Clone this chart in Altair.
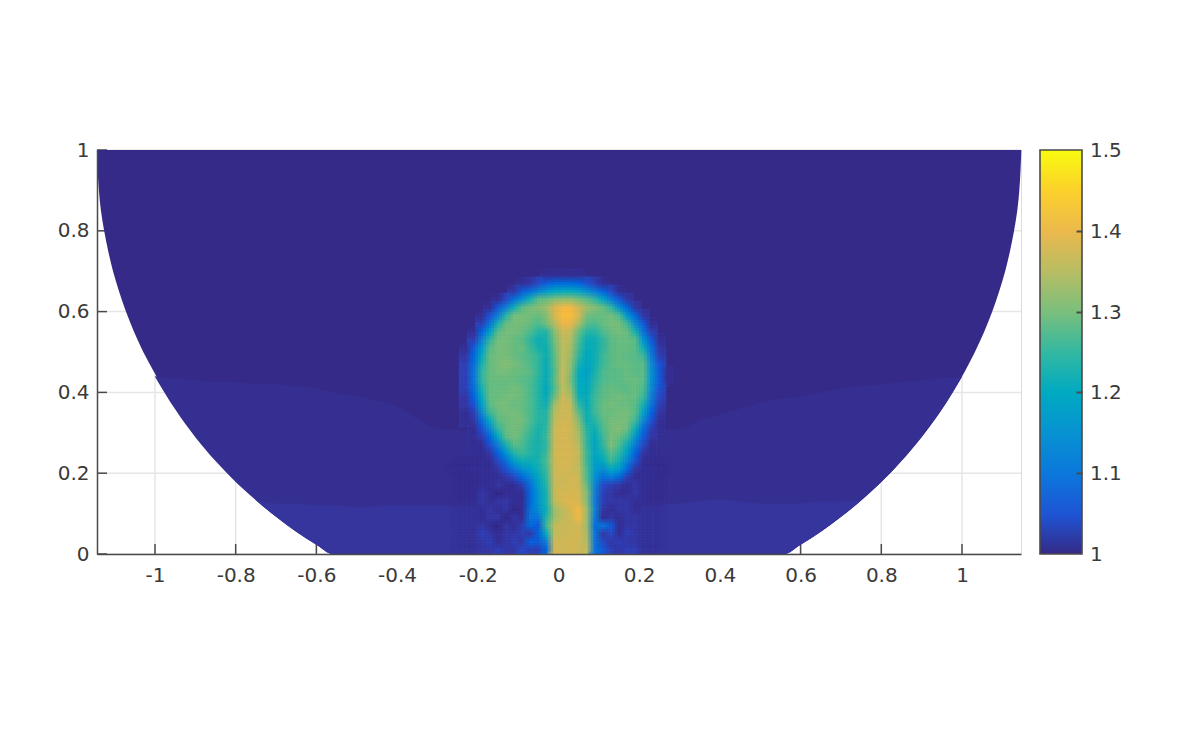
import altair as alt
import pandas as pd

# ---- axes ----
x_ticks = [-1, -0.8, -0.6, -0.4, -0.2, 0, 0.2, 0.4, 0.6, 0.8, 1]
y_ticks = [0, 0.2, 0.4, 0.6, 0.8, 1]
bar_ticks = [1, 1.1, 1.2, 1.3, 1.4, 1.5]
bar_pos = [0, 0.2, 0.4, 0.6, 0.8, 1]  # where those labels sit along the bar
bar_inner_ticks = [0.2, 0.4, 0.6, 0.8]

# ---- parula colours ----
parula = ["#352A87", "#353DAD", "#2053D4", "#0268E1", "#0D75DC", "#1481D6", "#108ED2", "#079CCF",
          "#06A7C6", "#0FAEB9", "#25B5A9", "#42BB98", "#65BE86", "#87BF77", "#A5BE6B", "#C0BC60",
          "#D9BA56", "#F1B94A", "#FFC337", "#FAD32A", "#F5E41D", "#F9FB0E"]
parula_stops = [1 + 0.5 * i / 21 for i in range(22)]

# ---- domain outline (half disc) ----
edge_y = [0, .05, .10, .15, .20, .25, .30, .35, .40, .45, .50, .55, .60, .65, .70, .75, .80, .85, .90, .95, 1.0]
edge_l = [-.556, -.640, -.709, -.767, -.819, -.864, -.904, -.940, -.973, -1.002, -1.029, -1.052, -1.072,
          -1.089, -1.104, -1.116, -1.126, -1.134, -1.139, -1.142, -1.144]
edge_r = [.561, .642, .711, .770, .822, .867, .908, .945, .977, 1.006, 1.032, 1.055, 1.075, 1.092, 1.107,
          1.119, 1.129, 1.137, 1.142, 1.145, 1.147]

# ---- faint bands ----
band_x = [-1.0, -.95, -.9, -.85, -.8, -.75, -.7, -.65, -.6, -.56, -.5, -.45, -.4, -.35, -.3, 0, .3, .35, .4, .45,
          .5, .56, .6, .65, .7, .75, .8, .85, .9, .95, 1.0]
band_low = [.439, .358, .289, .230, .178, .133, .092, .055, .023, 0, 0, 0, 0, 0, 0, 0, 0, 0, 0, 0,
            0, 0, .023, .055, .092, .133, .178, .230, .289, .358, .439]
band_mid = [.44, .435, .43, .425, .425, .42, .42, .415, .41, .40, .39, .38, .365, .335, .31, .30, .31, .33, .345, .36,
            .375, .385, .39, .40, .41, .415, .42, .425, .43, .435, .439]
low_x = [-.75, -.7, -.65, -.6, -.56, -.5, -.4, -.3, 0, .3, .4, .5, .56, .6, .65, .7, .75]
low_top = [.133, .125, .125, .12, .12, .115, .12, .12, .12, .125, .135, .125, .125, .125, .13, .13, .133]
low_bot = [.133, .092, .055, .023, 0, 0, 0, 0, 0, 0, 0, 0, 0, .023, .055, .092, .133]
mid_level = 1.007
low_level = 1.014

# ---- cells: (value - 1) * 100, read row by row; columns are x = -0.33 + 0.02 * c ----
row_y = [.69, .67, .65, .63, .61, .59, .57, .55, .53, .51, .49, .47, .45, .43, .41, .39, .37, .35, .33, .31, .29,
         .27, .25, .23, .21, .19, .17, .15, .13, .11, .09, .07, .05, .03, .01]
row_start = [15, 12, 11, 9, 8, 7, 7, 6, 6, 5, 5, 5, 5, 5, 5, 5, 5, 5, 5, 6, 6,
             6, 6, 4, 3, 4, 4, 4, 4, 4, 4, 4, 4, 4, 4]
row_values = [
    [1, 1, 1, 1, 1],
    [1, 2, 4, 6, 8, 8, 8, 7, 5, 3, 1],
    [2, 6, 9, 13, 17, 20, 21, 21, 19, 15, 11, 7, 4, 1],
    [1, 4, 9, 15, 23, 28, 29, 31, 32, 32, 30, 28, 25, 19, 11, 6, 2],
    [1, 6, 12, 22, 28, 30, 31, 33, 38, 41, 41, 37, 33, 31, 29, 25, 15, 8, 2],
    [1, 5, 12, 24, 30, 30, 30, 29, 31, 38, 42, 42, 38, 30, 29, 29, 30, 27, 16, 8, 2],
    [3, 10, 23, 29, 30, 30, 29, 27, 30, 35, 40, 40, 34, 28, 27, 29, 30, 30, 26, 14, 6, 1],
    [1, 7, 18, 28, 30, 30, 29, 27, 24, 24, 31, 37, 36, 29, 24, 24, 27, 29, 30, 29, 23, 10, 3],
    [3, 12, 25, 30, 30, 29, 28, 25, 22, 23, 30, 36, 35, 27, 22, 22, 25, 28, 29, 29, 28, 16, 6, 1],
    [1, 6, 17, 28, 30, 30, 29, 29, 26, 23, 22, 29, 36, 34, 26, 21, 22, 25, 28, 29, 29, 28, 22, 9, 2],
    [2, 8, 21, 29, 30, 30, 29, 28, 27, 25, 22, 28, 36, 33, 25, 20, 22, 26, 28, 29, 28, 28, 26, 11, 3],
    [3, 9, 23, 29, 30, 31, 30, 29, 27, 25, 21, 28, 36, 32, 23, 19, 22, 26, 28, 29, 29, 28, 28, 14, 5],
    [3, 10, 25, 29, 30, 30, 29, 29, 28, 25, 21, 27, 37, 31, 21, 18, 23, 27, 28, 28, 29, 28, 28, 15, 6, 1],
    [3, 10, 25, 29, 29, 29, 29, 28, 27, 24, 21, 28, 37, 30, 21, 19, 24, 27, 28, 28, 29, 29, 28, 15, 6, 1],
    [3, 9, 23, 29, 29, 29, 30, 29, 27, 24, 20, 27, 36, 32, 21, 20, 25, 28, 29, 28, 28, 29, 27, 14, 5],
    [2, 7, 21, 29, 29, 30, 30, 29, 27, 24, 21, 29, 37, 34, 22, 21, 26, 28, 29, 30, 29, 29, 26, 12, 4],
    [2, 5, 18, 28, 30, 30, 29, 29, 27, 24, 22, 33, 38, 36, 25, 21, 26, 29, 30, 29, 29, 28, 23, 10, 3],
    [1, 3, 14, 26, 29, 30, 30, 29, 27, 24, 24, 35, 37, 37, 28, 22, 26, 29, 29, 30, 30, 28, 19, 7, 2],
    [1, 2, 9, 21, 28, 29, 30, 30, 27, 24, 24, 36, 38, 37, 31, 22, 24, 28, 30, 30, 30, 26, 14, 5, 1],
    [1, 5, 14, 25, 29, 30, 29, 26, 23, 25, 37, 38, 38, 33, 24, 22, 27, 30, 31, 29, 22, 9, 3, 1],
    [1, 3, 8, 20, 28, 30, 28, 25, 23, 26, 37, 38, 37, 34, 25, 20, 26, 30, 29, 26, 16, 6, 2],
    [1, 1, 5, 12, 23, 28, 27, 24, 23, 25, 37, 38, 38, 35, 25, 19, 25, 31, 27, 22, 11, 4, 1],
    [1, 1, 2, 7, 16, 24, 26, 24, 23, 26, 38, 38, 38, 36, 26, 19, 23, 28, 25, 18, 7, 2, 1],
    [.7, .7, .7, 1, 1, 4, 9, 18, 22, 22, 23, 27, 37, 38, 38, 36, 26, 18, 20, 26, 22, 13, 5, 1, .7, .7],
    [.7, .7, .7, 1, 1, 1, 2, 5, 10, 15, 18, 22, 26, 37, 38, 37, 36, 27, 17, 14, 20, 17, 8, 2, 1, 1, .7, .7],
    [.7, .7, .7, 1, 1, 1, 2, 4, 8, 13, 20, 25, 37, 37, 38, 37, 27, 15, 9, 11, 8, 3, 1, 1, .7, .7],
    [.7, .7, .7, 1, 1, 2, 1, 1, 3, 9, 18, 24, 37, 37, 38, 37, 29, 13, 4, 3, 2, 1, 2, 1, .7, .7],
    [.7, .7, .7, 2, 1, 0, 1, 1, 1, 8, 16, 23, 37, 38, 38, 38, 31, 12, 3, 2, 1, 1, 2, 1, .7, .7],
    [.7, .7, .7, 2, 1, 2, 2, 1, 1, 8, 16, 23, 36, 38, 39, 38, 31, 11, 3, 2, 2, 2, 1, 1, .7, .7],
    [1.4, 1.4, 1.4, 1, 2, 1, 2, 0, 1, 9, 15, 22, 33, 36, 38, 41, 33, 13, 2, 1, 2, 2, 1, 1.4, 1.4, 1.4],
    [1.4, 1.4, 1.4, 1, 2, 2, 0, 2, 1, 10, 10, 24, 33, 36, 37, 41, 33, 11, 1, 2, 1, 2, 2, 1.4, 1.4, 1.4],
    [1.4, 1.4, 1.4, 2, 1, 0, 2, 1, 3, 8, 6, 26, 36, 37, 37, 38, 33, 9, 10, 6, 1, 2, 2, 1.4, 1.4, 1.4],
    [1.4, 1.4, 1.4, 3, 2, 1, 2, 2, 3, 2, 7, 21, 36, 37, 37, 38, 34, 10, 2, 4, 1, 3, 2, 1.4, 1.4, 1.4],
    [1.4, 1.4, 1.4, 2, 3, 1, 2, 3, 2, 7, 6, 12, 37, 37, 38, 37, 35, 10, 4, 2, 3, 2, 2, 1.4, 1.4, 1.4],
    [1.4, 1.4, 1.4, 2, 2, 3, 2, 2, 4, 3, 3, 8, 38, 37, 38, 37, 36, 10, 6, 3, 2, 3, 3, 1.4, 1.4, 1.4],
]

cells = []
for y, start, vals in zip(row_y, row_start, row_values):
    for i, n in enumerate(vals):
        cells.append({"cx": -0.33 + 0.02 * (start + i), "cy": y, "v": 1 + n / 100})
cells = pd.DataFrame(cells)

domain_df = pd.DataFrame({"y": edge_y, "l": edge_l, "r": edge_r, "v": 1.0})
mid_df = pd.DataFrame({"x": band_x, "t": band_mid, "b": band_low, "v": mid_level})
low_df = pd.DataFrame({"x": low_x, "t": low_top, "b": low_bot, "v": low_level})

INK = "#3a3a3a"
LINE = "#4a4a4a"
GRID = "#e6e6e6"
FONT = "DejaVu Sans"
FS = 20
W, H = 924, 404

xs = alt.Scale(domain=[-1.1437, 1.1462], nice=False, zero=False)
ys = alt.Scale(domain=[0, 1], nice=False, zero=False)
cs = alt.Scale(domain=parula_stops, range=parula, clamp=True)

x_axis = alt.Axis(values=x_ticks, title=None, grid=False, ticks=False,
                  domainColor=LINE, domainWidth=1.5, labelFont=FONT, labelFontSize=FS, labelColor=INK,
                  labelPadding=11, labelExpr="'' + datum.value", labelOverlap=False, zindex=1)
y_axis = alt.Axis(values=y_ticks, title=None, grid=False, ticks=False,
                  domainColor=LINE, domainWidth=1.5, labelFont=FONT, labelFontSize=FS, labelColor=INK,
                  labelPadding=8, labelExpr="'' + datum.value", labelOverlap=False, zindex=1)
# the short ticks inside the colour bar: an axis of its own placed over the bar's right edge
bar_axis = alt.Axis(orient="right", offset=55, values=bar_inner_ticks, title=None, grid=False, domain=False,
                    labels=False, tickSize=6, tickWidth=2, tickColor=LINE, zindex=1)
legend = alt.Legend(title=None, orient="none", legendX=943, legendY=0, values=bar_ticks, direction="vertical",
                    gradientLength=404, gradientThickness=42, gradientStrokeColor=LINE, gradientStrokeWidth=1.6,
                    labelExpr="''")

color = alt.Color("v:Q", scale=cs, legend=legend)

xtick_df = pd.DataFrame({"t": x_ticks})
ytick_df = pd.DataFrame({"t": y_ticks})

xgrid_l = alt.Chart(xtick_df).mark_rule(color=GRID, strokeWidth=1.5).encode(x=alt.X("t:Q", scale=xs, axis=x_axis))
ygrid_l = alt.Chart(ytick_df).mark_rule(color=GRID, strokeWidth=1.5).encode(y=alt.Y("t:Q", scale=ys, axis=y_axis))
xticks_l = alt.Chart(xtick_df).mark_rule(color=LINE, strokeWidth=1.5).encode(
    x=alt.X("t:Q", scale=xs), y=alt.value(H), y2=alt.value(H - 10))
yticks_l = alt.Chart(ytick_df).mark_rule(color=LINE, strokeWidth=1.5).encode(
    y=alt.Y("t:Q", scale=ys, axis=None), x=alt.value(0), x2=alt.value(10))

domain_l = alt.Chart(domain_df).mark_area(orient="horizontal", interpolate="monotone").encode(
    y=alt.Y("y:Q", scale=ys, axis=None), x=alt.X("l:Q", scale=xs), x2="r:Q", color=color)
mid_l = alt.Chart(mid_df).mark_area(interpolate="monotone").encode(
    x=alt.X("x:Q", scale=xs), y=alt.Y("t:Q", scale=ys, axis=None), y2="b:Q", color=color)
low_l = alt.Chart(low_df).mark_area(interpolate="monotone").encode(
    x=alt.X("x:Q", scale=xs), y=alt.Y("t:Q", scale=ys, axis=None), y2="b:Q", color=color)


def cell_pass(dx, dy, alpha):
    """The same read cells, drawn again slightly shifted and translucent, so that they blend like a shaded surface."""
    h = 0.0104
    return (
        alt.Chart(cells)
        .transform_calculate(xa=f"datum.cx+({dx})-{h}", xb=f"datum.cx+({dx})+{h}",
                             ya=f"datum.cy+({dy})-{h}", yb=f"datum.cy+({dy})+{h}")
        .mark_rect(opacity=alpha, clip=True)
        .encode(x=alt.X("xa:Q", scale=xs), x2="xb:Q", y=alt.Y("ya:Q", scale=ys, axis=None), y2="yb:Q", color=color)
    )


offsets = [(-.0067, -.0067), (.0067, .0067), (-.0067, .0067), (.0067, -.0067),
           (0, -.0067), (0, .0067), (-.0067, 0), (.0067, 0), (0, 0)]
passes = [cell_pass(dx, dy, round(1 / (k + 1), 3)) for k, (dx, dy) in enumerate(offsets)]

bar_text_l = alt.Chart(pd.DataFrame({"p": bar_pos, "s": [str(b) for b in bar_ticks]})).mark_text(
    align="left", baseline="middle", font=FONT, fontSize=FS, color=INK, dy=1).encode(
    y=alt.Y("p:Q", scale=ys, axis=bar_axis), x=alt.value(993), text="s:N")

chart = (
    alt.layer(xgrid_l, ygrid_l, xticks_l, yticks_l, domain_l, mid_l, low_l, *passes, bar_text_l)
    .resolve_scale(color="shared", y="independent")
    .properties(width=W, height=H, autosize=alt.AutoSizeParams(type="none"),
                padding={"left": 89, "top": 142, "right": 150, "bottom": 166})
    .configure_view(stroke=None)
    .configure(background="white")
)
chart.save("out.html", embed_options={"renderer": "svg", "actions": False})
